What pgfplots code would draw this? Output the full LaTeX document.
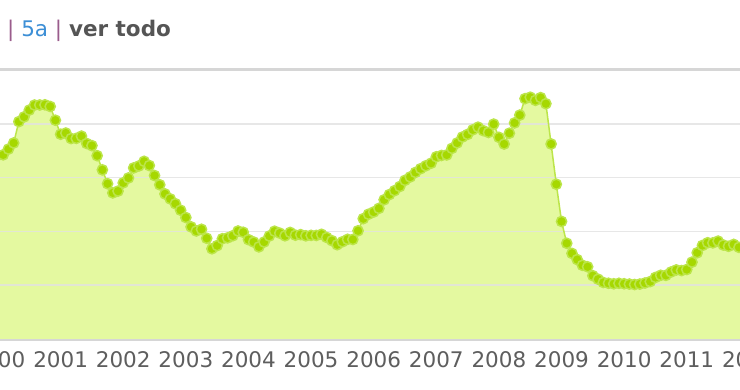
\documentclass[border=0pt]{standalone}
\usepackage{pgfplots}
\pgfplotsset{compat=1.18}
\usepackage{pgfplotstable}
\usepackage{fontspec}
\setmainfont{DejaVu Sans}
\definecolor{dotc}{HTML}{A6D800}
\definecolor{linec}{HTML}{BCE54A}
\definecolor{fillc}{HTML}{E4F9A0}
\definecolor{gridc}{HTML}{E2E2E2}
\definecolor{borderc}{HTML}{D6D6D6}
\definecolor{tickc}{HTML}{5E5E5E}
\definecolor{barc}{HTML}{9A5C8C}
\definecolor{linkc}{HTML}{3D8FD6}
\definecolor{boldc}{HTML}{555555}
% monthly values, i = months since Jan 2000
\pgfplotstableread{
i v
0 3.949
1 4.108
2 4.236
3 4.372
4 4.849
5 4.955
6 5.106
7 5.218
8 5.220
9 5.224
10 5.187
11 4.880
12 4.567
13 4.594
14 4.471
15 4.475
16 4.525
17 4.361
18 4.313
19 4.089
20 3.773
21 3.464
22 3.259
23 3.299
24 3.483
25 3.592
26 3.816
27 3.860
28 3.963
29 3.869
30 3.646
31 3.440
32 3.236
33 3.126
34 3.017
35 2.872
36 2.709
37 2.501
38 2.410
39 2.447
40 2.247
41 2.013
42 2.083
43 2.236
44 2.256
45 2.303
46 2.408
47 2.380
48 2.216
49 2.163
50 2.055
51 2.163
52 2.297
53 2.404
54 2.361
55 2.302
56 2.377
57 2.316
58 2.328
59 2.301
60 2.312
61 2.310
62 2.335
63 2.265
64 2.193
65 2.103
66 2.168
67 2.223
68 2.220
69 2.414
70 2.684
71 2.783
72 2.833
73 2.914
74 3.105
75 3.221
76 3.308
77 3.401
78 3.539
79 3.615
80 3.715
81 3.799
82 3.864
83 3.921
84 4.064
85 4.094
86 4.106
87 4.253
88 4.373
89 4.505
90 4.564
91 4.666
92 4.725
93 4.647
94 4.607
95 4.793
96 4.498
97 4.349
98 4.590
99 4.820
100 4.994
101 5.361
102 5.393
103 5.323
104 5.384
105 5.248
106 4.350
107 3.452
108 2.622
109 2.135
110 1.909
111 1.771
112 1.644
113 1.610
114 1.412
115 1.334
116 1.261
117 1.243
118 1.231
119 1.242
120 1.232
121 1.225
122 1.215
123 1.225
124 1.249
125 1.281
126 1.373
127 1.421
128 1.420
129 1.495
130 1.541
131 1.526
132 1.550
133 1.714
134 1.924
135 2.086
136 2.147
137 2.144
138 2.183
139 2.097
140 2.067
141 2.110
142 2.044
143 2.004
}\euribor
\begin{document}
\begin{tikzpicture}[x=1pt,y=1pt]
\path[use as bounding box, fill=white] (0,0) rectangle (740,389);
\node[anchor=base west, inner sep=0pt, font=\fontsize{21.5}{24}\selectfont] at (7,352)
  {\textcolor{barc}{|} \textcolor{linkc}{5a} \textcolor{barc}{|} \textcolor{boldc}{\bfseries ver todo}};
\begin{axis}[
  at={(0pt,50pt)}, anchor=south west,
  scale only axis, width=740pt, height=269pt,
  xmin=0.383, xmax=142.2, ymin=0, ymax=6.0,
  axis line style={draw=none},
  ytick=\empty,
  xtick={12,24,...,132},
  xticklabels={2001,2002,2003,2004,2005,2006,2007,2008,2009,2010,2011},
  extra description/.code={
    \node[font=\fontsize{21.5}{24}\selectfont, text=tickc, anchor=center] at (axis cs:0,0) [yshift=-21pt] {2000};
    \node[font=\fontsize{21.5}{24}\selectfont, text=tickc, anchor=center] at (axis cs:144,0) [yshift=-21pt] {2012};
  },
  major tick length=0pt,
  xticklabel style={font=\fontsize{21.5}{24}\selectfont, text=tickc, anchor=center, yshift=-21pt},
  clip=true,
]
\addplot[fill=fillc, draw=none] table[x=i,y=v]{\euribor} \closedcycle;
\draw[gridc, line width=1.5pt, opacity=0.8] (axis cs:-5,1.2) -- (axis cs:150,1.2);
\draw[gridc, line width=1.5pt, opacity=0.8] (axis cs:-5,2.4) -- (axis cs:150,2.4);
\draw[gridc, line width=1.5pt, opacity=0.8] (axis cs:-5,3.6) -- (axis cs:150,3.6);
\draw[gridc, line width=1.5pt, opacity=0.8] (axis cs:-5,4.8) -- (axis cs:150,4.8);
\addplot[linec, line width=1.5pt, mark=*, mark size=5.1pt,
  mark options={fill=dotc, draw=none}] table[x=i,y=v]{\euribor};
\end{axis}
\draw[borderc, line width=3pt] (0,319) -- (740,319);
\draw[borderc, line width=2.5pt] (0,49) -- (740,49);
\end{tikzpicture}
\end{document}
